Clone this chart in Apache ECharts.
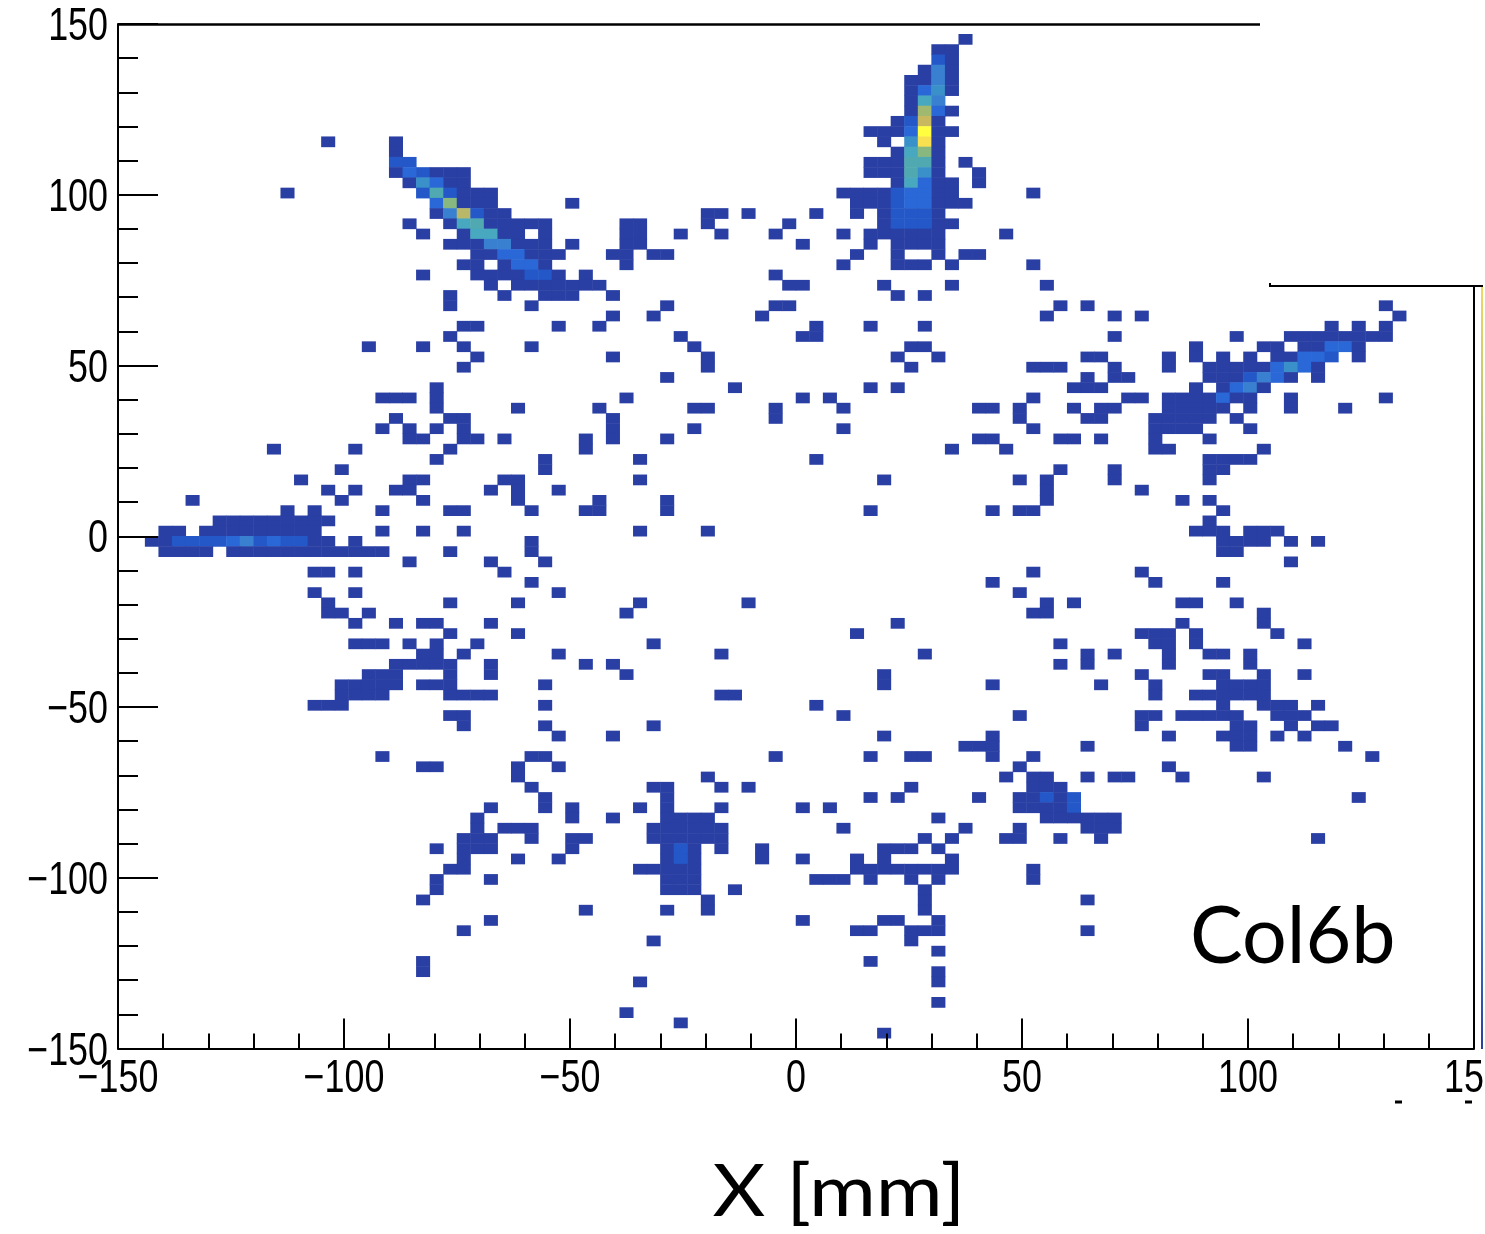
<!DOCTYPE html>
<html>
<head>
<meta charset="utf-8">
<style>html,body{margin:0;padding:0;background:#fff}#c{width:1485px;height:1234px}</style>
<script src="https://cdn.jsdelivr.net/npm/echarts@6/dist/echarts.min.js"></script>
</head>
<body>
<div id="c"></div>
<script>
// 100 x 100 bins of 3 mm. Columns count from x=-150, rows count from y=+150 downward.
const binEdgeStartMm = -150;
const binSizeMm = 3;
const binCount = 100;
const annotation = "Col6b";
const xTitle = "X [mm]";

// [row, columns of filled bins...]
const filledBinsByRow = [
[1,62],[2,60,61],[3,60,61],[4,59,60,61],[5,58,59,60,61],[6,58,59,60,61],[7,58,59,60],[8,58,59,60,61],
[9,57,58,59,60],[10,55,56,57,58,59,60,61],[11,15,20,56,58,59,60],[12,20,57,58,59,60],
[13,20,21,55,56,57,58,59,60,62],[14,20,21,22,23,24,25,55,56,57,58,59,60,63],
[15,21,22,23,24,25,57,58,59,60,61,63],[16,12,22,23,24,25,26,27,53,54,55,56,57,58,59,60,61,67],
[17,23,24,25,26,27,33,54,55,56,57,58,59,60,61,62],[18,23,24,25,26,27,28,43,44,46,51,54,56,57,58,59,60],
[19,21,24,25,26,27,28,29,30,31,37,38,43,49,56,57,58,59,60,61],
[20,22,25,26,27,28,29,31,37,38,41,44,48,53,55,56,57,58,59,60,65],
[21,24,25,26,27,28,29,30,31,33,37,38,50,55,57,58,59,60],
[22,26,27,28,29,30,31,32,36,37,39,40,54,57,60,62,63],
[23,25,26,28,29,30,31,37,53,57,58,59,61,67],[24,22,26,27,28,29,30,31,32,34,48],
[25,27,29,30,31,32,33,34,35,49,50,56,61,68],[26,24,28,31,32,33,36,57,59],
[27,24,30,40,48,49,69,71,93],[28,36,39,47,68,73,75,94],[29,25,26,32,35,51,55,59,89,91,93],
[30,24,41,50,51,73,82,86,87,88,89,90,91,92,93],[31,18,22,25,30,42,58,59,79,84,85,87,88,89,90,91],
[32,26,36,43,57,60,71,72,77,79,81,83,85,86,87,88,89,91],
[33,25,43,58,67,68,69,73,77,80,81,82,83,84,85,86,87,88],[34,40,71,73,74,80,81,82,83,84,85,86,88],
[35,23,45,55,57,70,71,72,79,81,82,83,84],[36,19,20,21,23,37,50,52,67,74,75,77,78,79,80,81,82,83,86,93],
[37,23,29,35,42,43,48,53,63,64,66,70,72,73,77,78,79,80,81,83,86,90],
[38,20,24,25,36,48,66,71,72,76,77,78,79,80,82],[39,19,21,23,25,36,42,53,67,76,77,78,79,83],
[40,21,22,25,26,28,34,36,40,63,64,69,70,72,76,80],[41,11,17,24,34,61,65,76,77,84],
[42,23,31,38,51,80,81,82,83],[43,16,31,69,73,80,81],[44,13,21,22,28,29,38,56,66,68,73,80],
[45,15,17,20,21,27,29,32,68,75],[46,5,16,22,29,35,40,68,78,80],
[47,12,14,19,24,25,30,34,35,40,55,64,66,67,81],[48,7,8,9,10,11,12,13,14,15,80],
[49,3,4,6,7,8,9,10,11,12,13,14,19,22,25,38,43,79,80,81,83,84,85],
[50,2,3,4,5,6,7,8,9,10,11,12,13,14,15,17,30,81,82,83,84,86,88],
[51,3,4,5,6,8,9,10,11,12,13,14,15,16,17,18,19,24,30,81,82],[52,21,27,31,86],[53,14,15,17,28,67,75],
[54,30,64,76,81],[55,14,17,32,66],[56,15,24,29,38,46,68,70,78,79,82],[57,15,16,18,37,67,68,84],
[58,17,20,22,23,27,57,78,84],[59,24,29,54,75,76,77,79,85],[60,17,18,19,21,23,26,39,69,76,77,79,87],
[61,22,23,25,32,44,59,71,73,77,80,81,83],[62,20,21,22,23,24,27,34,36,69,71,77,83],
[63,18,19,20,24,27,37,56,75,80,81,84,87],[64,16,17,18,19,20,22,23,24,31,56,64,72,76,81,82,83,84],
[65,16,17,18,19,24,25,26,27,44,45,76,79,80,81,82,83,84],[66,14,15,16,31,51,81,84,85,86,88],
[67,24,25,53,66,75,76,78,79,80,81,82,85,86,87],[68,25,31,39,75,82,83,86,88,89],
[69,32,36,56,64,77,81,82,83,85,87],[70,62,63,64,71,82,83,90],[71,19,30,31,48,55,58,59,64,67,92],
[72,22,23,29,32,66,77],[73,29,43,65,67,68,71,73,74,78,84],[74,30,39,40,44,46,58,67,68,69],
[75,31,40,55,57,63,66,67,68,69,70,91],[76,27,31,33,38,40,44,50,52,66,67,68,69,70],
[77,26,33,36,40,41,42,43,60,68,69,70,71,72,73],[78,26,28,29,30,39,40,41,42,43,44,53,62,66,71,72,73],
[79,25,26,27,30,33,34,39,40,41,42,43,44,59,61,65,66,69,72,88],
[80,23,25,26,27,33,40,41,42,44,47,56,57,58,60],[81,25,29,32,40,41,42,47,50,54,56,61],
[82,24,25,38,39,40,41,42,54,55,56,57,58,59,60,61,67],[83,23,27,40,41,42,51,52,53,55,58,60,67],
[84,23,40,41,42,45,59],[85,22,43,59,71],[86,34,40,43,59],[87,27,50,56,57,60],[88,25,54,55,58,59,60,71],
[89,39,58],[90,60],[91,22,55],[92,22,60],[93,38,60],[95,60],[96,37],[97,41],[98,56]
];

// [column, row, relative level] for bins above the lowest level
const hotBinsSpike = [
[60,3,2],[60,4,4],[60,5,4],[59,6,3],[60,6,5],[59,7,6],[60,7,4],[59,8,9],[60,8,3],[58,9,2],[59,9,11],
[58,10,3],[59,10,13],[58,11,5],[59,11,12],[58,12,6],[59,12,8],[58,13,7],[59,13,7],[58,14,7],[59,14,5],
[58,15,6],[59,15,3],[57,16,2],[58,16,3],[59,16,3],[57,17,2],[58,17,3],[59,17,3],
[57,18,2],[58,18,2],[59,18,2],[57,19,2],[58,19,2],[59,19,2]
];
const hotBinsDiagonal = [
[20,13,2],[21,13,2],[21,14,3],[22,14,2],[22,15,5],[23,15,3],[22,16,2],[23,16,7],[24,16,2],[23,17,3],[24,17,8],
[24,18,4],[25,18,10],[26,18,2],[25,19,6],[26,19,7],[26,20,6],[27,20,6],[27,21,4],[28,21,4],[28,22,3],[29,22,3],
[29,23,3],[30,23,3],[30,24,2],[31,24,2]
];
const hotBinsZeroLine = [[4,50,2],[5,50,2],[6,50,2],[7,50,2],[8,50,3],[9,50,4],[10,50,2],[11,50,3],[12,50,2],[13,50,2]];
const hotBinsRightArm = [
[89,31,3],[90,31,3],[87,32,3],[88,32,3],[89,32,2],[85,33,3],[86,33,5],[87,33,3],[83,34,2],[84,34,4],[85,34,3],
[82,35,3],[83,35,4],[81,36,3]
];
const hotBinsLowerSpots = [[41,80,2],[41,81,2],[68,75,2],[70,75,2],[70,76,2]];

const levelColors = ['#2a3fa3','#2458c8','#2a68d8','#3a80d0','#3a90c8','#48a8c0','#50a8b0','#88b880','#a0b870','#b8b868','#c8b860','#f8e050','#ffff40'];

// ---- build
const hot = new Map();
[hotBinsSpike,hotBinsDiagonal,hotBinsZeroLine,hotBinsRightArm,hotBinsLowerSpots].forEach(list=>{
  list.forEach(h=>hot.set(h[0]+'_'+h[1],h[2]));
});
const cells = [];
filledBinsByRow.forEach(row=>{
  row.slice(1).forEach(col=>{
    cells.push([col,row[0],hot.get(col+'_'+row[0])||1]);
  });
});
const xBins = Array.from({length:binCount},(_,i)=>binEdgeStartMm+binSizeMm*(i+0.5));
const yBins = Array.from({length:binCount},(_,i)=>-binEdgeStartMm-binSizeMm*(i+0.5));

const FONT_NUM = '"Liberation Sans",Arial,sans-serif';
const FONT_TXT = 'Lato,"Open Sans",sans-serif';
const fmt = v => String(v).replace('-','\u2212');
const G = {left:118,top:24,width:1356,height:1024.5,outerBoundsMode:'none',containLabel:false};
const lineSt = {color:'#000',width:2};

const chart = echarts.init(document.getElementById('c'),null,{renderer:'canvas'});
chart.setOption({
  animation:false,
  backgroundColor:'#fff',
  grid:G,
  title:{text:annotation,left:1185,top:893,textStyle:{fontFamily:FONT_TXT,fontSize:79,fontWeight:'normal',color:'#000'}},
  xAxis:[
    {type:'category',data:xBins,show:false},
    {type:'value',min:-150,max:150,interval:50,position:'bottom',z:5,
     name:xTitle,nameLocation:'middle',nameGap:108,
     nameTextStyle:{fontFamily:FONT_TXT,fontSize:72,color:'#000',padding:[0,0,0,76]},
     axisLine:{show:true,onZero:false,lineStyle:lineSt},
     axisTick:{show:true,inside:true,length:30,lineStyle:lineSt},
     minorTick:{show:true,splitNumber:5,length:15,lineStyle:lineSt},
     splitLine:{show:false},minorSplitLine:{show:false},
     axisLabel:{show:true,margin:8,formatter:fmt,fontFamily:FONT_NUM,fontSize:46,color:'#000',showMinLabel:true,showMaxLabel:true,hideOverlap:false}}
  ],
  yAxis:[
    {type:'category',data:yBins,inverse:true,show:false},
    {type:'value',min:-150,max:150,interval:50,position:'left',z:5,
     axisLine:{show:true,onZero:false,lineStyle:lineSt},
     axisTick:{show:true,inside:true,length:40,lineStyle:lineSt},
     minorTick:{show:true,splitNumber:5,length:20,lineStyle:lineSt},
     splitLine:{show:false},minorSplitLine:{show:false},
     axisLabel:{show:true,margin:10,formatter:fmt,fontFamily:FONT_NUM,fontSize:46,color:'#000',showMinLabel:true,showMaxLabel:true,hideOverlap:false}}
  ],
  visualMap:{show:false,type:'continuous',min:1,max:levelColors.length,dimension:2,seriesIndex:0,inRange:{color:levelColors}},
  series:[{type:'heatmap',xAxisIndex:0,yAxisIndex:0,data:cells,z:2,progressive:0,itemStyle:{borderWidth:0},emphasis:{disabled:true}}],
  graphic:[
    {type:'line',z:10,shape:{x1:118,y1:24.5,x2:1260,y2:24.5},style:{stroke:'#000',lineWidth:2.5}},
    {type:'line',z:10,shape:{x1:1269,y1:286,x2:1483,y2:286},style:{stroke:'#000',lineWidth:2}},
    {type:'line',z:10,shape:{x1:1270,y1:283,x2:1270,y2:287},style:{stroke:'#000',lineWidth:2}},
    {type:'line',z:10,shape:{x1:1474,y1:286,x2:1474,y2:1049},style:{stroke:'#000',lineWidth:2}},
    {type:'rect',z:10,shape:{x:1481,y:287,width:2,height:762},
     style:{fill:new echarts.graphic.LinearGradient(0,0,0,1,[
       {offset:0,color:'#f0d860'},{offset:0.3,color:'#88b880'},{offset:0.55,color:'#48a8c0'},{offset:0.8,color:'#3a80d0'},{offset:1,color:'#2a3fa3'}])}},
    {type:'rect',z:20,shape:{x:1483,y:0,width:2,height:1234},style:{fill:'#fff'}},
    {type:'line',z:10,shape:{x1:1395,y1:1102,x2:1402,y2:1102},style:{stroke:'#000',lineWidth:3}},
    {type:'line',z:10,shape:{x1:1465,y1:1102,x2:1472,y2:1102},style:{stroke:'#000',lineWidth:3}}
  ]
});

// The reference's lettering is condensed (tick labels) or wide (axis title):
// stretch the real text elements horizontally around their anchors.
function stretchText(){
  const zr = chart.getZr();
  zr.storage.getDisplayList(true).forEach(el=>{
    const t = el.style && el.style.text;
    if (t == null) return;
    const host = el.parent && el.parent.type !== 'group' ? el.parent : el;
    if (/^\u2212?\d+$/.test(t)) {
      host.scaleX = 0.78;
      if (Math.abs(host.x - 108) < 2) host.y += 3.5; // y-axis labels sit a little below their ticks
      host.markRedraw();
    } else if (t === xTitle) { host.scaleX = 1.13; host.markRedraw(); }
  });
  zr.refreshImmediately();
}
stretchText();
</script>
</body>
</html>
